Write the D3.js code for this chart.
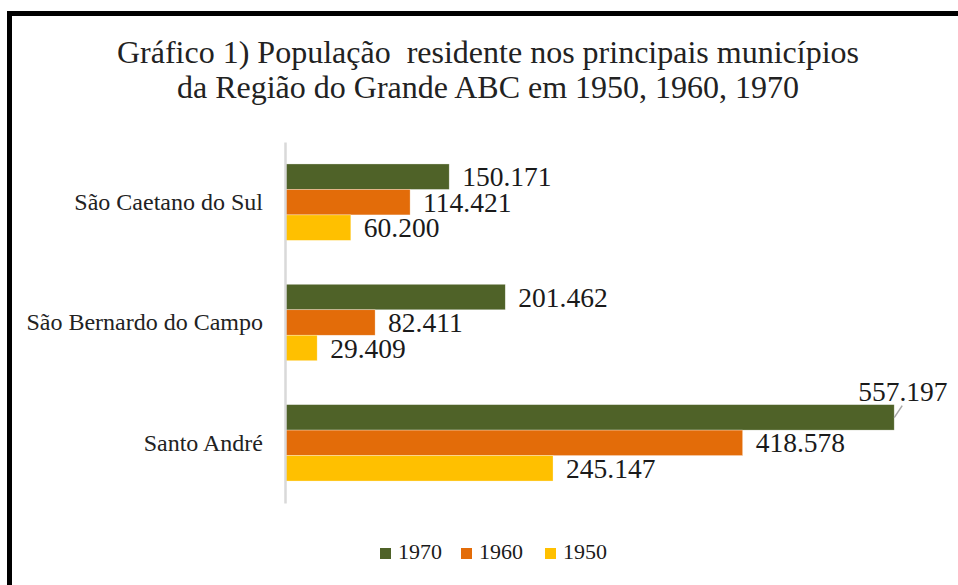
<!DOCTYPE html>
<html>
<head>
<meta charset="utf-8">
<script src="https://cdn.jsdelivr.net/npm/d3@7"></script>
<style>
  body { margin: 0; background: #fff; }
  svg text { font-family: "Liberation Serif", "Times New Roman", Tinos, "DejaVu Serif", serif; }
</style>
</head>
<body>
<div id="main"></div>
<script>
const width = 958;
const height = 585;

// data
const cities = ["São Caetano do Sul", "São Bernardo do Campo", "Santo André"];
const years = ["1970", "1960", "1950"];
const pop1970 = [150171, 201462, 557197];
const pop1960 = [114421, 82411, 418578];
const pop1950 = [60200, 29409, 245147];
const colors = ["#4F6228", "#E36C09", "#FFC000"];
const titleLines = ["Gráfico 1) População  residente nos principais municípios",
                    "da Região do Grande ABC em 1950, 1960, 1970"];

const series = [pop1970, pop1960, pop1950];
const serif = "'Liberation Serif', 'Times New Roman', serif";

const svg = d3.select("#main")
  .append("svg")
  .attr("width", width)
  .attr("height", height)
  .style("display", "block");

svg.append("rect")
  .attr("width", width).attr("height", height)
  .attr("fill", "#fff");

// black frame (cropped on right / bottom)
svg.append("rect")
  .attr("x", 9.5).attr("y", 13.5)
  .attr("width", width + 20).attr("height", height + 20)
  .attr("fill", "none")
  .attr("stroke", "#000")
  .attr("stroke-width", 5);

// title
svg.append("g").selectAll("text")
  .data(titleLines)
  .join("text")
  .attr("x", 488)
  .attr("y", (d, i) => 63 + i * 35)
  .attr("text-anchor", "middle")
  .attr("font-family", serif)
  .style("font-size", "32px")
  .style("white-space", "pre")
  .attr("fill", "#222")
  .text(d => d);

const x = d3.scaleLinear().domain([0, 600000]).range([285, 941]);
const y = d3.scaleBand().domain(cities).range([142, 503]).paddingInner(0.365).paddingOuter(0.1825);
const ySub = d3.scaleBand().domain(years).range([0, y.bandwidth()]);

const fmt = d3.formatLocale({decimal: ",", thousands: ".", grouping: [3], currency: ["", ""]}).format(",d");
const maxV = d3.max(series.flat());

// bars
const groups = svg.append("g").selectAll("g")
  .data(cities)
  .join("g")
  .attr("transform", d => "translate(0," + y(d) + ")");

years.forEach(function(yr, k) {
  groups.append("rect")
    .attr("x", x(0))
    .attr("y", ySub(yr))
    .attr("width", (d, i) => x(series[k][i]) - x(0))
    .attr("height", ySub.bandwidth())
    .attr("fill", colors[k])
    .attr("stroke", "#fff")
    .attr("stroke-opacity", 0.5)
    .attr("stroke-width", 0.6);
});

// value labels
years.forEach(function(yr, k) {
  groups.append("text")
    .attr("x", (d, i) => {
      const v = series[k][i];
      return v === maxV ? x(v) - 36 : x(v) + 13;
    })
    .attr("y", (d, i) => {
      const v = series[k][i];
      const c = ySub(yr) + ySub.bandwidth() / 2;
      return v === maxV ? c - 26 : c;
    })
    .attr("dy", "0.35em")
    .attr("font-family", serif)
    .style("font-size", "27.5px")
    .attr("fill", "#1a1a1a")
    .text((d, i) => fmt(series[k][i]));
});

// leader line for the largest value
const maxI = pop1970.indexOf(maxV);
svg.append("line")
  .attr("x1", x(maxV))
  .attr("y1", y(cities[maxI]) + ySub("1970") + 13)
  .attr("x2", x(maxV) + 8)
  .attr("y2", y(cities[maxI]) + ySub("1970") + 1)
  .attr("stroke", "#A6A6A6")
  .attr("stroke-width", 1.5);

// y axis
const yAxis = svg.append("g")
  .attr("transform", "translate(" + x(0) + ",0)")
  .call(d3.axisLeft(y).tickSize(0).tickPadding(22));
yAxis.attr("font-family", serif);
yAxis.select(".domain").attr("stroke", "#D9D9D9").attr("stroke-width", 2.5);
yAxis.selectAll("text")
  .attr("font-family", serif)
  .style("font-size", "24px")
  .attr("fill", "#222");

// legend
const legX = [380, 461, 545];
const legend = svg.append("g").selectAll("g")
  .data(years)
  .join("g")
  .attr("transform", (d, i) => "translate(" + legX[i] + ",548)");
legend.append("rect")
  .attr("width", 11).attr("height", 11)
  .attr("fill", (d, i) => colors[i]);
legend.append("text")
  .attr("x", 18).attr("y", 11)
  .attr("font-family", serif)
  .style("font-size", "22px")
  .attr("fill", "#1a1a1a")
  .text(d => d);
</script>
</body>
</html>
